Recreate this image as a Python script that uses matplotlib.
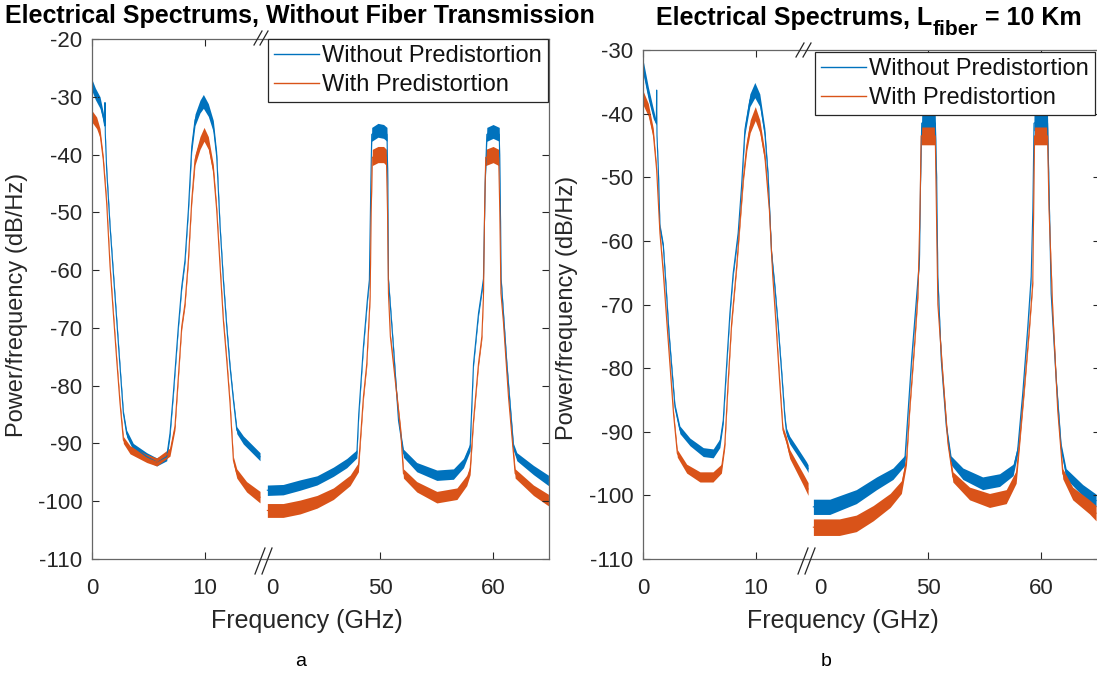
import matplotlib
matplotlib.use('Agg')
import matplotlib.pyplot as plt
from matplotlib.lines import Line2D

plt.rcParams['font.family'] = ['Liberation Sans', 'DejaVu Sans']
plt.rcParams['axes.unicode_minus'] = False

# ==================== data ====================
# (a) without fiber transmission -- left part 0..15 GHz, right part 40..65 GHz
fa_wo_L = [0, 0.3, 0.71, 1.0, 1.12, 1.15, 1.18, 1.3, 1.6, 1.89, 2.19, 2.48, 2.78, 3.07, 3.66,
           4.85, 5.73, 6.62, 6.91, 7.21, 7.65, 7.95, 8.24, 8.54, 8.84, 9.13, 9.57, 9.87, 10.31,
           10.75, 11.05, 11.35, 11.64, 11.94, 12.23, 12.53, 12.83, 13.41, 14.89]
ya_wo_L = [-28.0, -29.5, -31.0, -33.5, -35.0, -31.0, -36.5, -42.7, -52.5, -60.5, -68.7, -76.7,
           -84.8, -88.3, -90.6, -92.3, -93.2, -92.3, -88.3, -81.3, -69.8, -62.9, -58.3, -49.6,
           -38.6, -34.0, -31.7, -30.8, -32.3, -35.1, -40.3, -52.5, -61.7, -69.8, -76.7, -82.5,
           -87.7, -89.4, -92.3]
sa_wo_L = [1.0, 1.0, 1.0, 0.8, 0.3, 0.3, 0.3, 0.6, 0.5, 0.5, 0.5, 0.5, 0.5, 0.6, 0.6, 0.7, 0.7,
           0.7, 0.6, 0.5, 0.5, 0.5, 0.5, 0.6, 0.9, 1.0, 1.1, 1.2, 1.1, 1.0, 0.8, 0.5, 0.5, 0.5,
           0.5, 0.5, 0.6, 0.7, 0.7]

fa_w_L = [0, 0.41, 0.71, 1.0, 1.3, 1.6, 1.89, 2.19, 2.48, 2.78, 3.37, 4.85, 5.73, 6.91, 7.35,
          7.65, 7.95, 8.24, 8.54, 8.84, 9.13, 9.57, 9.93, 10.31, 10.75, 11.05, 11.35, 11.64,
          11.94, 12.23, 12.53, 12.83, 13.7, 14.89]
ya_w_L = [-33.4, -34.5, -36.3, -40.9, -48.4, -59.4, -67.5, -75.6, -83.0, -89.4, -91.1, -92.6,
          -93.2, -91.5, -87.1, -78.5, -69.8, -65.8, -58.3, -47.9, -40.9, -38.0, -36.5, -38.0,
          -42.6, -49.6, -59.4, -68.7, -75.6, -83.0, -92.9, -95.2, -97.5, -99.3]
sa_w_L = [1.0, 1.0, 0.8, 0.6, 0.5, 0.5, 0.5, 0.5, 0.5, 0.6, 0.7, 0.7, 0.7, 0.7, 0.6, 0.5, 0.5,
          0.5, 0.5, 0.6, 0.9, 1.1, 1.2, 1.1, 0.9, 0.6, 0.5, 0.5, 0.5, 0.5, 0.6, 0.8, 0.9, 1.0]

fa_wo_R = [40.0, 41.4, 42.9, 44.4, 45.85, 47.04, 47.93, 48.1, 48.51, 48.86, 49.04, 49.17, 49.25,
           49.8, 50.3, 50.6, 50.68, 50.73, 51.17, 51.62, 52.06, 53.24, 55.02, 56.49, 57.38,
           57.97, 58.27, 58.71, 59.01, 59.15, 59.3, 59.45, 60.0, 60.55, 60.63, 60.72, 61.22,
           61.81, 62.11, 63.58, 64.91]
ya_wo_R = [-98.1, -98.0, -97.2, -96.4, -94.9, -93.4, -91.8, -84.9, -73.3, -65.2, -61.7, -45.0,
           -36.5, -35.8, -36.0, -36.5, -45.0, -61.7, -73.3, -86.0, -91.7, -94.1, -95.5, -95.3,
           -93.4, -90.6, -76.2, -67.5, -63.5, -61.5, -45.0, -36.5, -36.0, -36.5, -45.0, -61.7,
           -76.2, -90.6, -92.3, -94.6, -96.4]
sa_wo_R = [0.9, 0.9, 0.9, 0.8, 0.8, 0.8, 0.7, 0.5, 0.5, 0.5, 0.5, 0.6, 1.2, 1.2, 1.2, 1.2, 0.6,
           0.5, 0.5, 0.5, 0.7, 0.8, 0.9, 0.9, 0.8, 0.7, 0.5, 0.5, 0.5, 0.5, 0.6, 1.2, 1.2, 1.2,
           0.6, 0.5, 0.5, 0.6, 0.7, 0.8, 0.9]

fa_w_R = [40.0, 41.4, 42.9, 44.4, 45.85, 47.33, 48.07, 48.51, 48.81, 49.11, 49.2, 49.3, 49.8,
          50.3, 50.55, 50.65, 50.73, 50.9, 51.17, 51.81, 52.06, 53.24, 55.02, 56.8, 57.67,
          57.97, 58.27, 58.71, 59.01, 59.15, 59.25, 59.35, 60.0, 60.5, 60.6, 60.7, 60.92,
          61.37, 61.96, 63.58, 64.91]
ya_w_R = [-101.6, -101.6, -101.0, -100.1, -98.7, -96.4, -94.1, -82.0, -76.2, -64.6, -50.0,
          -40.5, -40.0, -40.0, -40.5, -50.0, -64.0, -71.5, -76.2, -87.7, -95.2, -97.5, -99.3,
          -98.7, -96.4, -94.6, -86.0, -76.2, -71.5, -64.6, -50.0, -40.5, -40.0, -40.5, -50.0,
          -64.0, -69.0, -82.0, -95.2, -98.1, -99.8]
sa_w_R = [1.2, 1.2, 1.2, 1.1, 1.0, 0.9, 0.8, 0.5, 0.5, 0.5, 0.6, 1.4, 1.4, 1.4, 1.4, 0.6, 0.5,
          0.5, 0.5, 0.5, 0.8, 0.9, 1.0, 1.0, 0.9, 0.8, 0.5, 0.5, 0.5, 0.5, 0.6, 1.4, 1.4, 1.4,
          0.6, 0.5, 0.5, 0.5, 0.8, 0.9, 1.0]

# (b) L_fiber = 10 km
fb_wo_L = [0, 0.47, 0.91, 1.18, 1.21, 1.24, 1.36, 1.5, 1.8, 2.04, 2.3, 2.54, 2.83, 3.27, 4.16,
           5.34, 6.22, 6.81, 7.11, 7.4, 7.7, 7.99, 8.43, 8.73, 9.03, 9.47, 9.91, 10.35, 10.8,
           11.09, 11.39, 11.68, 11.98, 12.27, 12.57, 12.71, 13.0, 13.6, 14.48, 14.63]
yb_wo_L = [-32.6, -36.8, -40.0, -41.5, -36.3, -43.5, -48.9, -57.8, -60.9, -67.2, -74.5, -79.8,
           -86.1, -89.7, -91.6, -93.2, -93.4, -91.8, -88.2, -79.8, -71.4, -65.1, -58.8, -51.5,
           -42.5, -37.9, -36.3, -37.9, -43.1, -49.9, -62.0, -67.2, -73.5, -80.3, -87.7, -90.0,
           -91.3, -92.9, -95.3, -95.8]
sb_wo_L = [1.1, 1.0, 0.8, 0.3, 0.3, 0.3, 0.5, 0.5, 0.5, 0.5, 0.5, 0.5, 0.5, 0.6, 0.6, 0.7, 0.7,
           0.7, 0.6, 0.5, 0.5, 0.5, 0.5, 0.5, 0.8, 1.0, 1.2, 1.0, 0.8, 0.5, 0.5, 0.5, 0.5, 0.5,
           0.5, 0.6, 0.6, 0.6, 0.6, 0.6]

fb_w_L = [0, 0.47, 0.91, 1.21, 1.5, 1.8, 2.1, 2.4, 2.7, 3.04, 3.87, 5.05, 6.2, 6.95, 7.25,
          7.55, 7.85, 8.3, 8.6, 8.9, 9.2, 9.5, 9.95, 10.35, 10.8, 11.2, 11.5, 11.8, 12.1, 12.4,
          12.7, 13.0, 13.6, 14.2, 14.63]
yb_w_L = [-37.5, -39.4, -43.1, -48.9, -58.8, -65.1, -72.5, -79.8, -87.1, -93.4, -95.8, -97.1,
          -97.1, -95.8, -92.0, -82.0, -73.0, -64.0, -57.0, -50.0, -45.0, -42.0, -40.0, -42.0,
          -46.8, -55.2, -65.6, -73.5, -81.9, -89.7, -91.3, -93.5, -95.5, -97.5, -99.0]
sb_w_L = [1.1, 1.0, 0.8, 0.5, 0.5, 0.5, 0.5, 0.5, 0.5, 0.6, 0.7, 0.8, 0.8, 0.7, 0.5, 0.5, 0.5,
          0.5, 0.5, 0.6, 0.8, 1.0, 1.1, 1.0, 0.8, 0.5, 0.5, 0.5, 0.5, 0.5, 0.6, 0.7, 0.8, 0.9,
          1.0]

fb_wo_R = [39.8, 41.25, 43.6, 45.4, 46.85, 47.9, 48.2, 48.5, 48.85, 49.2, 49.3, 49.4, 50.0,
           50.6, 50.72, 50.83, 51.13, 51.58, 52.0, 53.05, 54.8, 56.3, 57.5, 57.9, 58.35, 58.8,
           59.1, 59.25, 59.35, 60.0, 60.55, 60.72, 60.87, 61.3, 61.75, 62.2, 63.67, 64.85]
yb_wo_R = [-101.8, -101.8, -100.2, -98.1, -96.6, -94.5, -86.6, -78.7, -70.9, -63.0, -50.0,
           -41.5, -41.0, -41.5, -50.0, -65.7, -78.7, -89.2, -94.5, -96.6, -98.1, -97.6, -96.0,
           -92.9, -84.0, -73.5, -65.6, -55.0, -41.5, -41.0, -41.5, -55.0, -68.3, -81.4, -92.4,
           -96.6, -99.2, -100.8]
sb_wo_R = [1.2, 1.2, 1.1, 1.0, 0.9, 0.8, 0.5, 0.5, 0.5, 0.5, 0.6, 1.2, 1.2, 1.2, 0.6, 0.5, 0.5,
           0.5, 0.7, 0.9, 1.0, 1.0, 0.9, 0.7, 0.5, 0.5, 0.5, 0.6, 1.2, 1.2, 1.2, 0.6, 0.5, 0.5,
           0.6, 0.8, 0.9, 1.0]

fb_w_R = [39.8, 42.1, 43.6, 45.1, 46.6, 47.6, 48.05, 48.33, 48.77, 49.07, 49.25, 49.35, 50.0,
          50.6, 50.7, 50.83, 51.28, 51.72, 52.16, 53.64, 55.41, 56.89, 57.77, 58.06, 58.51,
          58.95, 59.24, 59.32, 59.4, 60.0, 60.55, 60.68, 61.01, 61.45, 61.9, 62.78, 64.26, 64.85]
yb_w_R = [-105.0, -105.0, -104.4, -102.8, -100.8, -98.7, -94.5, -86.6, -76.1, -68.3, -55.0,
          -43.5, -43.5, -43.5, -55.0, -70.0, -81.4, -91.8, -97.1, -99.7, -100.8, -100.2, -97.1,
          -91.8, -82.9, -73.5, -66.6, -55.0, -43.5, -43.5, -43.5, -55.0, -70.9, -86.6, -96.6,
          -99.7, -101.8, -102.8]
sb_w_R = [1.3, 1.3, 1.3, 1.2, 1.1, 1.0, 0.7, 0.5, 0.5, 0.5, 0.6, 1.4, 1.4, 1.4, 0.6, 0.5, 0.5,
          0.5, 0.8, 1.0, 1.1, 1.1, 1.0, 0.7, 0.5, 0.5, 0.5, 0.6, 1.4, 1.4, 1.4, 0.6, 0.5, 0.5,
          0.8, 1.0, 1.1, 1.2]

LABELS = ['Without Predistortion', 'With Predistortion']
XTICK_LABELS = ['0', '10', '0', '50', '60']
# ===================================================================

W, H = 1097, 675
BLUE = '#0072BD'
ORANGE = '#D95319'
DARK = '#262626'


def fx(px):
    return px / W


def fy(py):
    return 1 - py / H


def draw_band(ax, f, y, s, shift, color):
    """noisy spectrum: filled band around the trace"""
    x = [v - shift for v in f]
    lo = [a - b for a, b in zip(y, s)]
    hi = [a + b for a, b in zip(y, s)]
    ax.fill_between(x, lo, hi, color=color, linewidth=0)
    ax.plot(x, y, color=color, linewidth=0.8)


def setup_panel(ax, series, ylo, yhi, xticks):
    for f, y, s, sh, c in series:
        draw_band(ax, f, y, s, sh, c)
    ax.set_xlim(0, 40.5)
    ax.set_ylim(ylo, yhi)
    ax.set_yticks(range(ylo, yhi + 1, 10))
    ax.set_xticks(xticks)
    ax.set_xticklabels(XTICK_LABELS)
    ax.tick_params(direction='in', length=5, width=0.8, colors=DARK, labelsize=16,
                   top=True, right=True)
    ax.tick_params(axis='x', pad=14)
    ax.tick_params(axis='y', pad=7)
    tk = ax.xaxis.get_major_ticks()
    tk[2].tick1line.set_visible(False)
    tk[2].tick2line.set_visible(False)
    for sp in ax.spines.values():
        sp.set_color('#666666')
        sp.set_linewidth(0.9)


def break_marks(fig, marks):
    for (x0, y0, x1, y1) in marks:
        fig.add_artist(Line2D([fx(x0), fx(x1)], [fy(y0), fy(y1)], color=DARK,
                              linewidth=0.9, transform=fig.transFigure))


fig = plt.figure(figsize=(W / 100, H / 100), dpi=100)

# ---- panel a ----
ax_a = fig.add_axes([fx(92), fy(559), 457 / W, 520 / H])
SHIFT_A = 24.46
setup_panel(ax_a, [
    (fa_wo_L, ya_wo_L, sa_wo_L, 0, BLUE),
    (fa_wo_R, ya_wo_R, sa_wo_R, SHIFT_A, BLUE),
    (fa_w_L, ya_w_L, sa_w_L, 0, ORANGE),
    (fa_w_R, ya_w_R, sa_w_R, SHIFT_A, ORANGE),
], -110, -20, [0, 10, 15.96, 50 - SHIFT_A, 60 - SHIFT_A])

# ---- panel b ----
ax_b = fig.add_axes([fx(643), fy(559), 457 / W, 509 / H])
SHIFT_B = 24.7
setup_panel(ax_b, [
    (fb_wo_L, yb_wo_L, sb_wo_L, 0, BLUE),
    (fb_wo_R, yb_wo_R, sb_wo_R, SHIFT_B, BLUE),
    (fb_w_L, yb_w_L, sb_w_L, 0, ORANGE),
    (fb_w_R, yb_w_R, sb_w_R, SHIFT_B, ORANGE),
], -110, -30, [0, 10, 15.7, 50 - SHIFT_B, 60 - SHIFT_B])

# legends
handles = [Line2D([], [], color=BLUE, linewidth=1.0), Line2D([], [], color=ORANGE, linewidth=1.0)]
for ax, (lx, ly) in [(ax_a, (548, 39)), (ax_b, (1095, 52))]:
    leg = ax.legend(handles, LABELS, loc='upper right', bbox_to_anchor=(fx(lx), fy(ly)),
                    bbox_transform=fig.transFigure, fontsize=17, frameon=True, fancybox=False,
                    framealpha=1, edgecolor=DARK, handlelength=1.9, handletextpad=0.15,
                    borderpad=0.25, labelspacing=0.3, borderaxespad=0)
    leg.get_frame().set_linewidth(0.9)
    for t in leg.get_texts():
        t.set_color('#111111')

# axis breaks //
break_marks(fig, [(254, 45, 262, 31), (260, 45, 268, 31),
                  (255, 574, 265, 548), (262, 574, 272, 548)])
break_marks(fig, [(796, 57, 804, 43), (803, 57, 811, 43),
                  (798, 574, 808, 548), (805, 574, 815, 548)])

# titles
fig.text(fx(300), fy(23), 'Electrical Spectrums, Without Fiber Transmission', fontsize=18,
         fontweight='bold', ha='center', va='baseline')
# title b built from pieces so the subscript sits like the MATLAB one
renderer = fig.canvas.get_renderer()
pieces = [('Electrical Spectrums, L', 18, 25), ('fiber', 15, 35), (' = 10 Km', 18, 25)]
texts = []
for s, size, base in pieces:
    t = fig.text(0, fy(base), s, fontsize=size, fontweight='bold', ha='left', va='baseline')
    texts.append(t)
widths = [t.get_window_extent(renderer).width for t in texts]
x = 869 - sum(widths) / 2
for t, w in zip(texts, widths):
    t.set_x(fx(x))
    x += w

for x, y in [(307, 621), (843, 621)]:
    fig.text(fx(x), fy(y), 'Frequency (GHz)', fontsize=18, color=DARK, ha='center', va='center')
for x, y in [(17, 305), (567, 308)]:
    fig.text(fx(x), fy(y), 'Power/frequency (dB/Hz)', fontsize=17, color=DARK, rotation=90,
             ha='center', va='center')
fig.text(fx(301), fy(662), 'a', fontsize=14, ha='center', va='center')
fig.text(fx(826), fy(662), 'b', fontsize=14, ha='center', va='center')

fig.savefig('out.png', dpi=100)
